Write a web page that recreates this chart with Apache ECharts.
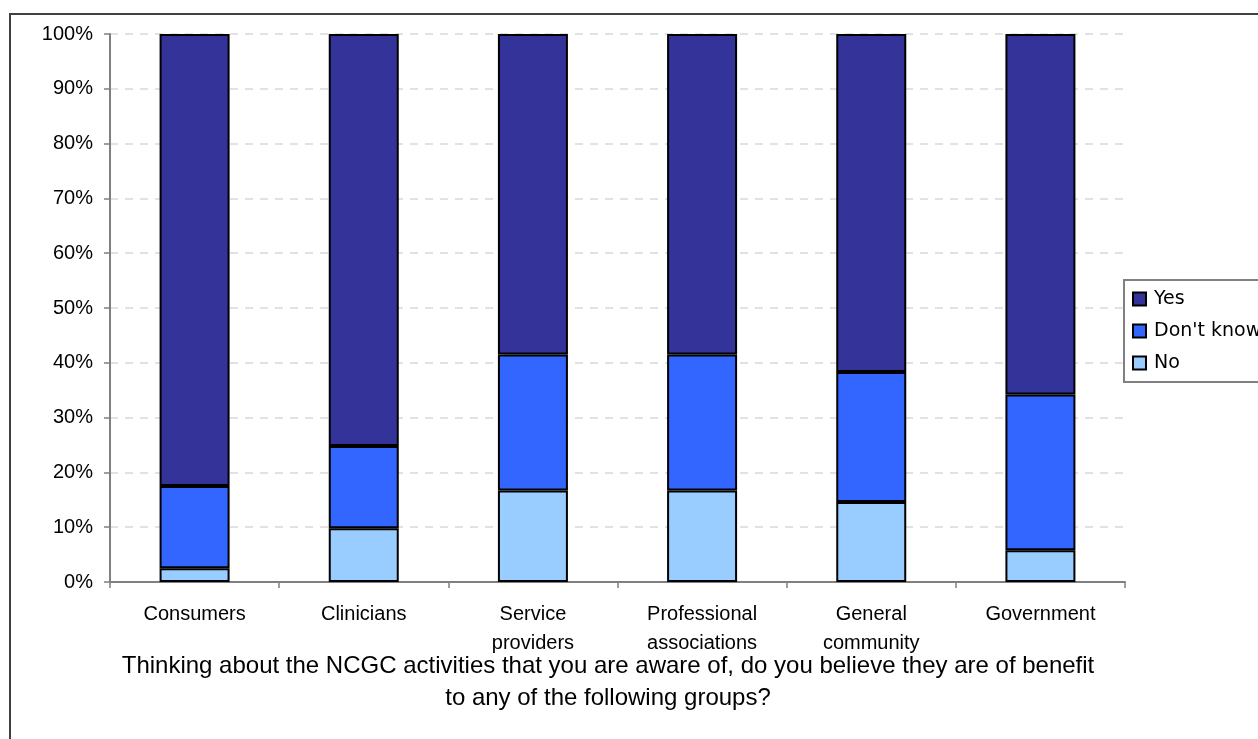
<!DOCTYPE html>
<html>
<head>
<meta charset="utf-8">
<script src="https://cdn.jsdelivr.net/npm/echarts@6/dist/echarts.min.js"></script>
<style>
html,body{margin:0;padding:0;background:#fff;}
#chart{width:1258px;height:739px;}
</style>
</head>
<body>
<div id="chart"></div>
<script>
const categories = ['Consumers', 'Clinicians', 'Service\nproviders', 'Professional\nassociations', 'General\ncommunity', 'Government'];
const noValues = [2.5, 9.8, 16.7, 16.7, 14.6, 5.8];
const dontKnowValues = [15.0, 15.0, 24.8, 24.8, 23.7, 28.4];
const yesValues = [82.5, 75.2, 58.5, 58.5, 61.7, 65.8];
const yTicks = [0, 10, 20, 30, 40, 50, 60, 70, 80, 90, 100];
const axisTitle = 'Thinking about the NCGC activities that you are aware of, do you believe they are of benefit\nto any of the following groups?';

const chart = echarts.init(document.getElementById('chart'), null, {renderer: 'canvas'});
const font = 'Liberation Sans, Arial, sans-serif';
const legendFont = 'DejaVu Sans, Verdana, sans-serif';
const barStyle = (c) => ({color: c, borderColor: '#000', borderWidth: 2});
chart.setOption({
  animation: false,
  backgroundColor: '#fff',
  grid: {left: 110, right: 133, top: 34, bottom: 157},
  legend: {
    orient: 'vertical', left: 1124, top: 280,
    data: ['Yes', "Don't know", 'No'],
    icon: 'rect', itemWidth: 13, itemHeight: 13, itemGap: 12,
    padding: [9, 40, 9, 8],
    borderColor: '#808080', borderWidth: 2, backgroundColor: '#fff',
    itemStyle: {borderColor: '#000', borderWidth: 2},
    textStyle: {fontFamily: legendFont, fontSize: 19, color: '#000', lineHeight: 20, padding: [0, 0, 0, 3]}
  },
  xAxis: {
    type: 'category', data: categories,
    axisLine: {lineStyle: {color: '#808080', width: 2}},
    axisTick: {show: true, length: 6, lineStyle: {color: '#808080', width: 1.5}},
    axisLabel: {fontFamily: font, fontSize: 20, color: '#000', lineHeight: 29, margin: 18, interval: 0}
  },
  yAxis: {
    type: 'value', min: 0, max: 100, interval: 10,
    axisLine: {show: true, lineStyle: {color: '#808080', width: 2}},
    axisTick: {show: true, length: 6, lineStyle: {color: '#808080', width: 1.5}},
    axisLabel: {fontFamily: font, fontSize: 20, color: '#000', margin: 17,
      formatter: (v) => yTicks.includes(v) ? v + '%' : ''},
    splitLine: {show: true, lineStyle: {color: '#d9d9d9', type: [8, 7], width: 1.5}}
  },
  series: [
    {name: 'No', type: 'bar', stack: 'a', data: noValues, barWidth: 70, itemStyle: barStyle('#99CCFF')},
    {name: "Don't know", type: 'bar', stack: 'a', data: dontKnowValues, barWidth: 70, itemStyle: barStyle('#3366FF')},
    {name: 'Yes', type: 'bar', stack: 'a', data: yesValues, barWidth: 70, itemStyle: barStyle('#333399')}
  ],
  graphic: [
    {type: 'rect', shape: {x: 10, y: 14, width: 1300, height: 800}, style: {fill: 'none', stroke: '#404040', lineWidth: 2}, silent: true, z: -1},
    {type: 'text', x: 608, y: 650, style: {text: axisTitle, align: 'center', verticalAlign: 'top', fontFamily: font, fontSize: 24, lineHeight: 32, fill: '#000'}}
  ]
});
</script>
</body>
</html>
